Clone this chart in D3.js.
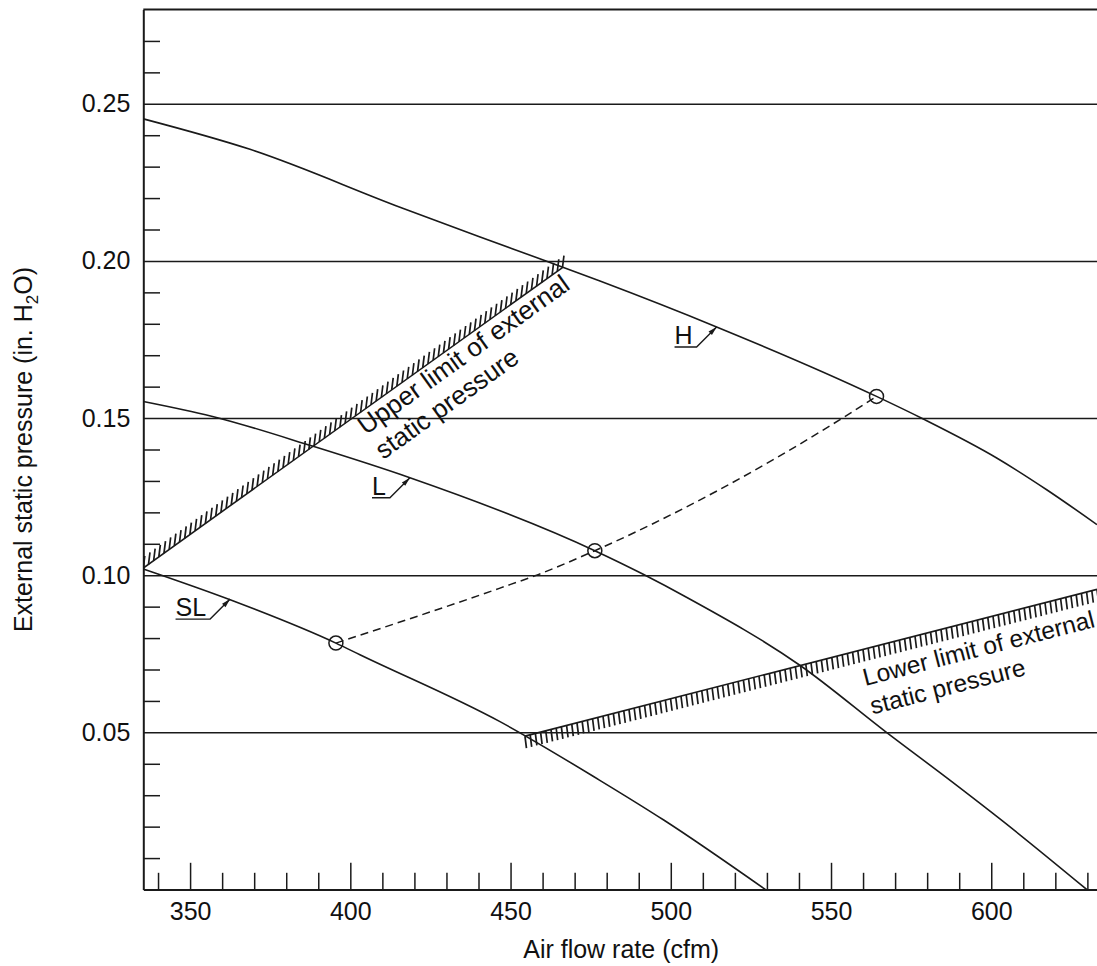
<!DOCTYPE html>
<html>
<head>
<meta charset="utf-8">
<script src="https://cdn.jsdelivr.net/npm/d3@7"></script>
<style>
  body { margin: 0; background: #fff; }
  svg { display: block; font-family: "Liberation Sans", Arial, Helvetica, sans-serif; }
  .axis text { font-family: "Liberation Sans", Arial, Helvetica, sans-serif; font-size: 25px; fill: #111; }
  .axis line, .axis path { stroke: #1a1a1a; }
</style>
</head>
<body>
<svg id="chart" width="1097" height="966"></svg>
<script>
// fan curves: [air flow (cfm), external static pressure (in. H2O)]
const curveH = [[335.4, 0.2452], [368.7, 0.2355], [415.5, 0.2171], [440.5, 0.2076], [460.2, 0.2003],
  [477.9, 0.1936], [514.3, 0.1790], [564.2, 0.1569], [578.8, 0.1497], [601.7, 0.1373], [617.3, 0.1272], [633, 0.1161]];
const curveL = [[335.4, 0.1553], [356.7, 0.1506], [388.4, 0.1410], [418.6, 0.1310], [476.3, 0.1078],
  [491.4, 0.1003], [504.9, 0.0930], [540.5, 0.0712], [567.3, 0.0500], [588.1, 0.0340], [603.9, 0.0215], [629.8, 0]];
const curveSL = [[335.4, 0.1020], [362.5, 0.0922], [395.5, 0.0784], [403, 0.0747], [446.7, 0.0534],
  [477.6, 0.0349], [497.8, 0.0221], [529.5, 0]];

// system curve through the operating points (dashed)
const operatingLine = [[395.5, 0.0784], [446.7, 0.0959], [458.6, 0.1002], [476.3, 0.1078], [552.8, 0.1495], [564.2, 0.1569]];
const operatingPoints = [[395.5, 0.0784], [476.3, 0.1078], [564.2, 0.1569]];

// limits of external static pressure
const upperLimit = [[335.4, 0.1023], [466.2, 0.1979]];
const lowerLimit = [[454.5, 0.0488], [633, 0.0955]];

// curve names and the point where each leader touches its curve
const curveNames = ["H", "L", "SL"];
const labelPoints = [[514.3, 0.1790], [418.6, 0.1310], [362.5, 0.0924]];

const xTickLabels = [350, 400, 450, 500, 550, 600];
const yTickLabels = [0.05, 0.10, 0.15, 0.20, 0.25];

const svg = d3.select("#chart");
const ink = "#1a1a1a";

const x = d3.scaleLinear().domain([335.4, 633]).range([143.3, 1097]);
const y = d3.scaleLinear().domain([0, 0.28]).range([889.5, 9.5]);
const [plotLeft, plotRight] = x.range();
const [plotBottom, plotTop] = y.range();

svg.append("defs").append("clipPath").attr("id", "plotArea")
  .append("rect")
    .attr("x", plotLeft).attr("y", plotTop)
    .attr("width", plotRight - plotLeft).attr("height", plotBottom - plotTop);

// horizontal grid at the labelled values
svg.append("g")
    .attr("class", "axis")
    .attr("transform", `translate(${plotLeft},0)`)
    .call(d3.axisLeft(y).tickValues(yTickLabels).tickFormat(d3.format(".2f"))
      .tickSize(-(plotRight - plotLeft)).tickPadding(13).tickSizeOuter(0))
    .call(g => g.select(".domain").remove())
    .call(g => g.selectAll("line").attr("stroke-width", 1.5));

// minor y ticks + left axis line
const yMinor = d3.range(1, 28).map(d => d / 100).filter(d => Math.round(d * 100) % 5 !== 0);
svg.append("g")
    .attr("class", "axis")
    .attr("transform", `translate(${plotLeft},0)`)
    .call(d3.axisLeft(y).tickValues(yMinor).tickFormat("").tickSize(-16.7).tickSizeOuter(0))
    .call(g => g.selectAll("line").attr("stroke-width", 1.5))
    .call(g => g.select(".domain").attr("stroke-width", 2));

// x axis: major ticks with labels, minor ticks every 10 cfm
svg.append("g")
    .attr("class", "axis")
    .attr("transform", `translate(0,${plotBottom})`)
    .call(d3.axisBottom(x).tickValues(xTickLabels).tickSize(-26.7).tickPadding(12.7).tickSizeOuter(0))
    .call(g => g.selectAll("line").attr("stroke-width", 1.5))
    .call(g => g.select(".domain").attr("stroke-width", 2));

const xMinor = d3.range(340, 631, 10).filter(d => d % 50 !== 0);
svg.append("g")
    .attr("class", "axis")
    .attr("transform", `translate(0,${plotBottom})`)
    .call(d3.axisBottom(x).tickValues(xMinor).tickFormat("").tickSize(-16.7).tickSizeOuter(0))
    .call(g => g.select(".domain").remove())
    .call(g => g.selectAll("line").attr("stroke-width", 1.5));

// top frame
svg.append("line")
    .attr("x1", plotLeft).attr("x2", plotRight)
    .attr("y1", plotTop).attr("y2", plotTop)
    .attr("stroke", ink).attr("stroke-width", 2);

const plot = svg.append("g").attr("clip-path", "url(#plotArea)");

const line = d3.line()
    .x(d => x(d[0]))
    .y(d => y(d[1]))
    .curve(d3.curveMonotoneX);

[curveH, curveL, curveSL, upperLimit, lowerLimit].forEach(c => {
  plot.append("path")
      .datum(c)
      .attr("d", line)
      .attr("fill", "none")
      .attr("stroke", ink)
      .attr("stroke-width", 1.6);
});

plot.append("path")
    .datum(operatingLine)
    .attr("d", line)
    .attr("fill", "none")
    .attr("stroke", ink)
    .attr("stroke-width", 1.5)
    .attr("stroke-dasharray", "8,5");

plot.selectAll("circle")
  .data(operatingPoints)
  .join("circle")
    .attr("cx", d => x(d[0]))
    .attr("cy", d => y(d[1]))
    .attr("r", 7)
    .attr("fill", "none")
    .attr("stroke", ink)
    .attr("stroke-width", 1.5);

// hatching on the forbidden side of a limit line (side -1 = above, +1 = below)
function hatch(pts, side) {
  const x0 = x(pts[0][0]), y0 = y(pts[0][1]);
  const x1 = x(pts[1][0]), y1 = y(pts[1][1]);
  const n = Math.round((x1 - x0) / 5.2);
  plot.append("g")
    .selectAll("line")
    .data(d3.range(n + 1).map(i => i / n))
    .join("line")
      .attr("x1", t => x0 + t * (x1 - x0))
      .attr("y1", t => y0 + t * (y1 - y0))
      .attr("x2", t => x0 + t * (x1 - x0) + 1.5)
      .attr("y2", t => y0 + t * (y1 - y0) + side * 12)
      .attr("stroke", ink)
      .attr("stroke-width", 1.7);
}
hatch(upperLimit, -1);
hatch(lowerLimit, 1);

// two-line captions laid along a limit line
function limitLabel(pts, lines, along, offsets, size) {
  const ax = x(pts[0][0]), ay = y(pts[0][1]);
  const bx = x(pts[1][0]), by = y(pts[1][1]);
  const len = Math.hypot(bx - ax, by - ay);
  const ux = (bx - ax) / len, uy = (by - ay) / len;
  const angle = Math.atan2(by - ay, bx - ax) * 180 / Math.PI;
  lines.forEach((s, i) => {
    const tx = ax + ux * along - uy * offsets[i];
    const ty = ay + uy * along + ux * offsets[i];
    svg.append("text")
        .attr("transform", `translate(${tx},${ty}) rotate(${angle})`)
        .attr("font-size", size)
        .attr("fill", "#111")
        .text(s);
  });
}
limitLabel(upperLimit, ["Upper limit of external", "static pressure"], 258, [22, 52], 26);
limitLabel(lowerLimit, ["Lower limit of external", "static pressure"], 342, [36, 65.5], 24.5);

// curve names with underline and arrow leader
curveNames.forEach((name, i) => {
  const px = x(labelPoints[i][0]), py = y(labelPoints[i][1]);
  const ex = px - 20, ey = py + 20;
  const t = svg.append("text")
      .attr("font-size", 25)
      .attr("fill", "#111")
      .text(name);
  const w = t.node().getComputedTextLength();
  const sx = ex - w - 4;
  t.attr("x", sx).attr("y", ey - 3);
  svg.append("path")
      .attr("d", `M${sx},${ey}H${ex}L${px},${py}`)
      .attr("fill", "none")
      .attr("stroke", ink)
      .attr("stroke-width", 1.4);
  const a = Math.atan2(py - ey, px - ex);
  const bx = px - 9 * Math.cos(a), by = py - 9 * Math.sin(a);
  const nx = -Math.sin(a) * 2.4, ny = Math.cos(a) * 2.4;
  svg.append("path")
      .attr("d", `M${px},${py}L${bx + nx},${by + ny}L${bx - nx},${by - ny}Z`)
      .attr("fill", ink);
});

// axis titles
svg.append("text")
    .attr("x", (plotLeft + plotRight) / 2 + 1)
    .attr("y", 958)
    .attr("text-anchor", "middle")
    .attr("font-size", 25)
    .attr("fill", "#111")
    .text("Air flow rate (cfm)");

const yTitle = svg.append("text")
    .attr("transform", `translate(31.5,${(plotTop + plotBottom) / 2}) rotate(-90)`)
    .attr("text-anchor", "middle")
    .attr("font-size", 25)
    .attr("fill", "#111");
yTitle.append("tspan").text("External static pressure (in. H");
yTitle.append("tspan").attr("font-size", 17).attr("dy", 6).text("2");
yTitle.append("tspan").attr("dy", -6).text("O)");
</script>
</body>
</html>
